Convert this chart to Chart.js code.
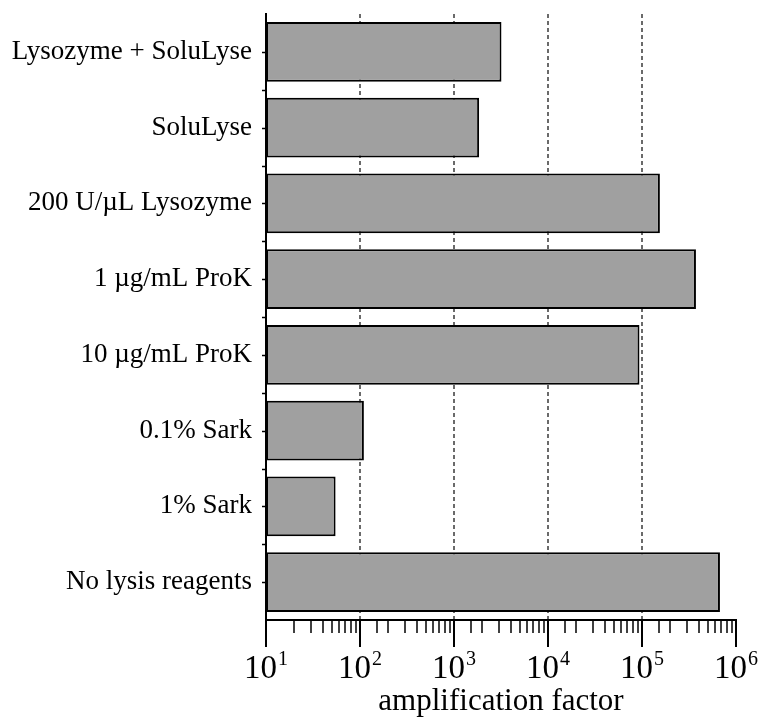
<!DOCTYPE html>
<html>
<head>
<meta charset="utf-8">
<script src="https://cdn.jsdelivr.net/npm/chart.js@4/dist/chart.umd.min.js"></script>
<style>
  html, body { margin: 0; padding: 0; background: #fff; }
  canvas { display: block; }
</style>
</head>
<body>
<canvas id="chart" width="759" height="720"></canvas>
<script>
// Lysis conditions, top to bottom
const categories = [
  'Lysozyme + SoluLyse',
  'SoluLyse',
  '200 U/\u00B5L Lysozyme',
  '1 \u00B5g/mL ProK',
  '10 \u00B5g/mL ProK',
  '0.1% Sark',
  '1% Sark',
  'No lysis reagents'
];

// Amplification factor for each condition
const amplification = [3200, 1850, 155000, 375000, 94000, 110, 55, 675000];

// Decade tick labels: base with superscript exponent
const tickBase = '10';
const tickExponents = ['1', '2', '3', '4', '5', '6'];

const axisTitle = 'amplification factor';

const SERIF = '"Liberation Serif", "Times New Roman", serif';

function isDecade(v) {
  if (!(v > 0)) return false;
  const l = Math.log10(v);
  return Math.abs(l - Math.round(l)) < 1e-9;
}

// Draws the tick marks on both axes and the 10^n labels under the x axis
const axisDecor = {
  id: 'axisDecor',
  afterDraw(chart) {
    const { ctx, chartArea } = chart;
    const xs = chart.scales.x;
    const ys = chart.scales.y;
    const axisY = chartArea.bottom;
    ctx.save();
    ctx.strokeStyle = '#000';

    // x ticks: long at decades, short in between
    xs.ticks.forEach(t => {
      const major = isDecade(t.value);
      const px = Math.round(xs.getPixelForValue(t.value));
      ctx.lineWidth = major ? 2 : 1.5;
      ctx.beginPath();
      ctx.moveTo(px, axisY);
      ctx.lineTo(px, axisY + (major ? 27 : 13));
      ctx.stroke();
    });

    // y ticks: small marks at category centres and boundaries
    ctx.lineWidth = 1.5;
    const n = categories.length;
    const step = ys.getPixelForValue(1) - ys.getPixelForValue(0);
    for (let i = 0; i < n; i++) {
      const c = ys.getPixelForValue(i);
      [c, c + step / 2].forEach(py => {
        if (py >= chartArea.bottom - 1) return;
        ctx.beginPath();
        ctx.moveTo(chartArea.left - 4, Math.round(py) + 0.5);
        ctx.lineTo(chartArea.left, Math.round(py) + 0.5);
        ctx.stroke();
      });
    }

    // decade labels
    ctx.fillStyle = '#000';
    ctx.textBaseline = 'alphabetic';
    ctx.textAlign = 'left';
    const baseFont = '33px ' + SERIF;
    const supFont = '20px ' + SERIF;
    tickExponents.forEach(e => {
      const px = xs.getPixelForValue(Math.pow(10, Number(e)));
      ctx.font = baseFont;
      const bw = ctx.measureText(tickBase).width;
      ctx.font = supFont;
      const sw = ctx.measureText(e).width;
      const start = px - (bw + 1 + sw) / 2;
      ctx.font = baseFont;
      ctx.fillText(tickBase, start, 678);
      ctx.font = supFont;
      ctx.fillText(e, start + bw + 1, 665);
    });
    ctx.restore();
  }
};

new Chart(document.getElementById('chart'), {
  type: 'bar',
  data: {
    labels: categories,
    datasets: [{
      data: amplification,
      backgroundColor: '#a0a0a0',
      borderColor: '#000',
      borderWidth: 2,
      borderSkipped: false,
      barPercentage: 0.792,
      categoryPercentage: 1
    }]
  },
  options: {
    indexAxis: 'y',
    responsive: false,
    devicePixelRatio: 1,
    animation: false,
    layout: { padding: { left: 0, right: 23, top: 14, bottom: 0 } },
    plugins: {
      legend: { display: false },
      tooltip: { enabled: false }
    },
    scales: {
      x: {
        type: 'logarithmic',
        min: 10,
        max: 1000000,
        afterFit: s => {
          s.height = 100;
          s.paddingLeft = 0;
          s.paddingRight = 0;
        },
        ticks: { display: false },
        grid: {
          display: true,
          drawTicks: false,
          drawOnChartArea: true,
          lineWidth: 2,
          color: c => {
            const v = c.tick ? c.tick.value : 0;
            return (isDecade(v) && v > 10 && v < 1000000) ? '#6a6a6a' : 'rgba(0,0,0,0)';
          }
        },
        border: { display: true, color: '#000', width: 2, dash: [4, 3] },
        title: {
          display: true,
          text: axisTitle,
          color: '#000',
          font: { family: SERIF, size: 31 },
          padding: { top: 0, bottom: 0 }
        }
      },
      y: {
        afterFit: s => {
          s.width = 266;
          s.paddingTop = 0;
          s.paddingBottom = 0;
        },
        ticks: {
          color: '#000',
          font: { family: SERIF, size: 27 },
          padding: 14
        },
        grid: { display: true, drawOnChartArea: false, drawTicks: false },
        border: { display: true, color: '#000', width: 2 }
      }
    }
  },
  plugins: [axisDecor]
});
</script>
</body>
</html>
